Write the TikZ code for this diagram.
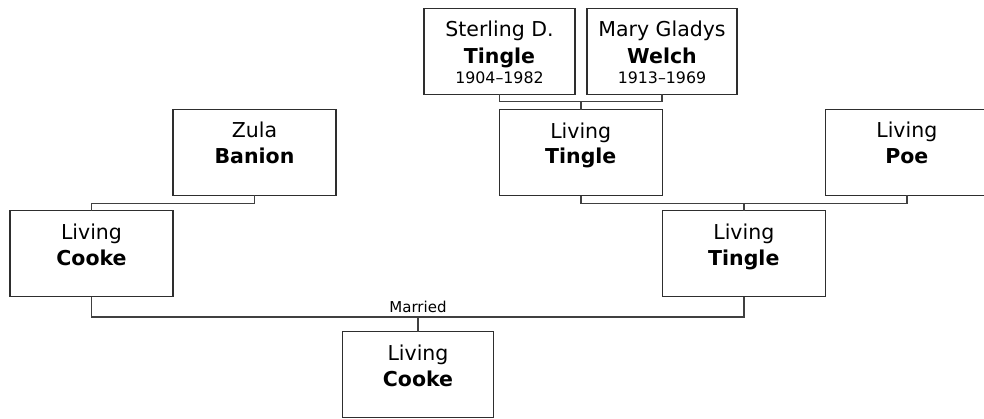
\documentclass[tikz,border=0pt]{standalone}
\usepackage{fontspec}
\setmainfont{DejaVu Sans}
\usetikzlibrary{calc}
\begin{document}
\begin{tikzpicture}[x=1pt,y=-1pt,
  person/.style={draw=black!82, line width=1.5pt, fill=white, minimum width=163pt, minimum height=86pt, inner sep=0pt, outer sep=0pt},
  narrow/.style={person, minimum width=151pt},
  link/.style={draw=black!75, line width=1.5pt},
  nm/.style={anchor=base, inner sep=0pt, font=\fontsize{20.5}{24}\selectfont},
  bnm/.style={anchor=base, inner sep=0pt, font=\fontsize{20.5}{24}\selectfont\bfseries},
  yr/.style={anchor=base, inner sep=0pt, font=\fontsize{15.8}{18}\selectfont},
  lbl/.style={anchor=base, inner sep=0pt, font=\fontsize{15}{18}\selectfont}]
\useasboundingbox (0,0) rectangle (984,418);

% boxes
\node[narrow] (sterling) at (499.5,51.3) {};
\node[narrow, minimum width=150pt] (welch) at (662,51.3) {};
\node[person] (banion) at (254.5,152.3) {};
\node[person] (ptingle) at (580.75,152.6) {};
\node[person] (poe) at (906.8,152.3) {};
\node[person] (fcooke) at (91.5,253.7) {};
\node[person] (mtingle) at (743.8,253.7) {};
\node[narrow, minimum width=150.6pt] (child) at (418,374.7) {};

% texts
\node[nm]  (s1) at ($(sterling.north)+(0,28.4)$) {Sterling D.};
\node[bnm] (s2) at ($(sterling.north)+(0,55)$) {Tingle};
\node[yr]  (s3) at ($(sterling.north)+(0,75)$) {1904–1982};
\node[nm]  (w1) at ($(welch.north)+(0,28.4)$) {Mary Gladys};
\node[bnm] (w2) at ($(welch.north)+(0,55)$) {Welch};
\node[yr]  (w3) at ($(welch.north)+(0,75)$) {1913–1969};
\node[nm]  (b1) at ($(banion.north)+(0,28.5)$) {Zula};
\node[bnm] (b2) at ($(banion.north)+(0,54.3)$) {Banion};
\node[nm]  (p1) at ($(ptingle.north)+(0,28.5)$) {Living};
\node[bnm] (p2) at ($(ptingle.north)+(0,54.3)$) {Tingle};
\node[nm]  (o1) at ($(poe.north)+(0,28.5)$) {Living};
\node[bnm] (o2) at ($(poe.north)+(0,54.3)$) {Poe};
\node[nm]  (f1) at ($(fcooke.north)+(0,28.5)$) {Living};
\node[bnm] (f2) at ($(fcooke.north)+(0,54.3)$) {Cooke};
\node[nm]  (m1) at ($(mtingle.north)+(0,28.5)$) {Living};
\node[bnm] (m2) at ($(mtingle.north)+(0,54.3)$) {Tingle};
\node[nm]  (c1) at ($(child.north)+(0,28.5)$) {Living};
\node[bnm] (c2) at ($(child.north)+(0,54.3)$) {Cooke};

% connectors
\coordinate (j1) at (580.75,101.7);
\draw[link] (sterling.south) |- (j1) -| (welch.south);
\draw[link] (j1) -- (ptingle.north);

\coordinate (j2) at (91.5,203.3);
\draw[link] (banion.south) |- (j2) -- (fcooke.north);

\coordinate (j3) at (743.8,203.3);
\draw[link] (ptingle.south) |- (j3) -| (poe.south);
\draw[link] (j3) -- (mtingle.north);

\coordinate (j4) at (418,317.2);
\draw[link] (fcooke.south) |- (j4) -| (mtingle.south);
\draw[link] (j4) -- (child.north);
\node[lbl] (married) at (418,312.7) {Married};
\end{tikzpicture}
\end{document}
